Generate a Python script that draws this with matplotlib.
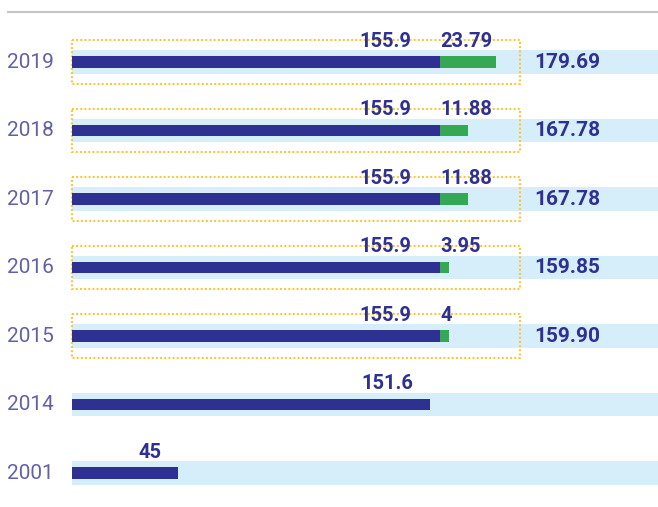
import matplotlib.pyplot as plt
from matplotlib.patches import Rectangle

# Data
years = ['2019', '2018', '2017', '2016', '2015', '2014', '2001']
base = [155.9, 155.9, 155.9, 155.9, 155.9, 151.6, 45]
extra = [23.79, 11.88, 11.88, 3.95, 4, 0, 0]
totals = ['179.69', '167.78', '167.78', '159.85', '159.90', '', '']
extra_labels = ['23.79', '11.88', '11.88', '3.95', '4', '', '']

navy = '#2E3192'
green = '#34A853'
band = '#D6EEF9'
gold = '#FFC425'
year_col = '#45459A'

plt.rcParams['font.family'] = ['Roboto', 'DejaVu Sans']

fig = plt.figure(figsize=(6.58, 5.07), dpi=100)
ax = fig.add_axes([0, 0, 1, 1])

px = 2.3605  # pixels per unit
x_left = -72 / px
x_right = (658 - 72) / px
ax.set_xlim(x_left, x_right)
ax.set_ylim((507 - 62) / 68.5, -62 / 68.5)
ax.axis('off')

rows = list(range(len(years)))
box_right = max(b + e for b, e in zip(base, extra)) + 10

# light background bands
ax.barh(rows, [x_right] * len(rows), left=0, height=0.34, color=band, zorder=1)

# dotted boxes around stacked rows
for i in rows:
    if extra[i] > 0:
        ax.add_patch(Rectangle((0, i - 0.32), box_right, 0.64, fill=False,
                               edgecolor=gold, lw=1.5, ls=(0, (0.9, 1.1)), zorder=2))

ax.barh(rows, base, height=0.175, color=navy, zorder=3)
ax.barh(rows, extra, left=base, height=0.175, color=green, zorder=3)

for i in rows:
    ax.text(-7.6, i, years[i], ha='right', va='center', fontsize=15,
            fontweight='normal', color=year_col, alpha=0.85)
    stacked = extra[i] > 0
    off = 12 if stacked else 7
    ax.text(base[i] - off, i - 0.22, f'{base[i]:g}', ha='right', va='baseline',
            fontsize=14.5, fontweight='bold', color=navy, zorder=4)
    if stacked:
        ax.text(base[i], i - 0.22, extra_labels[i], ha='left', va='baseline',
                fontsize=14.5, fontweight='bold', color=navy, zorder=4)
        ax.text(box_right + 6, i, totals[i], ha='left', va='center',
                fontsize=15, fontweight='bold', color=navy, zorder=4)

ax.axhline(-50 / 68.5, xmin=8 / 658, xmax=1, color='#C4C4C4', lw=1.5)

fig.savefig('out.png', dpi=100)
